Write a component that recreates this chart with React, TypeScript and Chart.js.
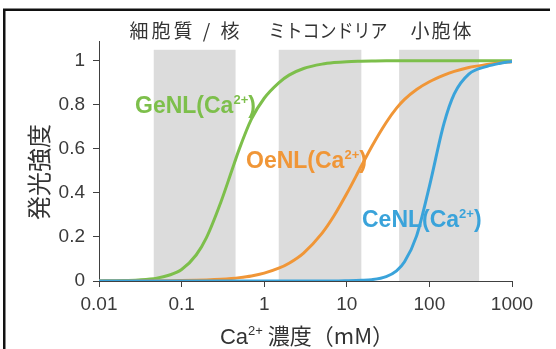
import React, { useEffect, useRef } from "react";
import { Chart, registerables } from "chart.js";

Chart.register(...registerables);

// ---- data ----
const concentrations = [
  0.01, 0.015, 0.02, 0.03, 0.05, 0.07, 0.1, 0.15, 0.2, 0.3, 0.4, 0.5, 0.7, 1, 1.5, 2, 3, 5, 7,
  10, 15, 20, 30, 40, 50, 70, 100, 150, 200, 300, 500, 700, 1000,
];
const genlValues = [
  0.0005, 0.0012, 0.002, 0.005, 0.013, 0.026, 0.052, 0.118, 0.197, 0.36, 0.495, 0.6, 0.735, 0.83,
  0.9, 0.935, 0.965, 0.985, 0.992, 0.996, 0.998, 0.999, 1, 1, 1, 1, 1, 1, 1, 1, 1, 1, 1,
];
const oenlValues = [
  0, 0, 0, 0.0005, 0.0009, 0.0013, 0.0021, 0.0034, 0.0049, 0.0081, 0.0116, 0.0153, 0.023, 0.0356,
  0.058, 0.081, 0.127, 0.216, 0.296, 0.397, 0.522, 0.61, 0.72, 0.785, 0.825, 0.87, 0.905, 0.935,
  0.952, 0.97, 0.983, 0.99, 0.996,
];
const cenlValues = [
  0, 0, 0, 0, 0, 0, 0, 0, 0, 0, 0, 0, 0, 0, 0, 0, 0, 0, 0, 0.001, 0.003, 0.006, 0.02, 0.046,
  0.087, 0.205, 0.43, 0.715, 0.85, 0.94, 0.975, 0.988, 0.997,
];
const seriesNames = ["GeNL", "OeNL", "CeNL"];

const xTickValues = [0.01, 0.1, 1, 10, 100, 1000];
const xTickLabels = ["0.01", "0.1", "1", "10", "100", "1000"];
const yTickValues = [0, 0.2, 0.4, 0.6, 0.8, 1];
const yTickLabels = ["0", "0.2", "0.4", "0.6", "0.8", "1"];

const regionNames = ["細胞質 / 核", "ミトコンドリア", "小胞体"];
const regionStarts = [0.046, 1.5, 43];
const regionEnds = [0.45, 15, 400];
const regionTop = 1.05;

const yTitle = "発光強度";
const xTitleMain = "Ca";
const xTitleSup = "2+";
const xTitleRest = " 濃度（mM）";

// ---- styles ----
const GREEN = "#7dbf4b";
const ORANGE = "#f09637";
const BLUE = "#3aa3da";
const LATIN = '"Liberation Sans", Arial, sans-serif';
const CJK = '"Noto Sans CJK JP", "Liberation Sans", sans-serif';
const TEXT = "#333333";

type Part = { t: string; size: number; bold?: boolean; dy?: number; family?: string };

function drawRich(ctx: CanvasRenderingContext2D, parts: Part[], x: number, y: number, align: "left" | "center", color: string) {
  const fontOf = (p: Part) => `${p.bold ? "bold " : ""}${p.size}px ${p.family || LATIN}`;
  let total = 0;
  for (const p of parts) {
    ctx.font = fontOf(p);
    total += ctx.measureText(p.t).width;
  }
  let cx = align === "center" ? x - total / 2 : x;
  ctx.fillStyle = color;
  ctx.textBaseline = "alphabetic";
  ctx.textAlign = "left";
  for (const p of parts) {
    ctx.font = fontOf(p);
    ctx.fillText(p.t, cx, y + (p.dy || 0));
    cx += ctx.measureText(p.t).width;
  }
}

const bandsPlugin = {
  id: "bands",
  beforeDraw(chart: any) {
    const { ctx, chartArea, scales } = chart;
    const xs = scales.x;
    const ys = scales.y;
    ctx.save();
    ctx.fillStyle = "#dcdcdc";
    const top = ys.getPixelForValue(regionTop);
    for (let i = 0; i < regionStarts.length; i++) {
      const a = xs.getPixelForValue(regionStarts[i]);
      const b = xs.getPixelForValue(regionEnds[i]);
      ctx.fillRect(a, top, b - a, chartArea.bottom - top);
    }
    ctx.restore();
  },
};

const textPlugin = {
  id: "texts",
  afterDraw(chart: any) {
    const { ctx } = chart;
    ctx.save();
    // frame
    ctx.fillStyle = "#888";
    ctx.fillRect(3, 8, 547, 1);
    ctx.fillStyle = "#111";
    ctx.fillRect(3, 9, 547, 2);
    ctx.fillRect(3, 9, 2.5, 340);

    // region names
    ctx.fillStyle = TEXT;
    ctx.textBaseline = "middle";
    ctx.textAlign = "center";
    ctx.font = `19px ${CJK}`;
    (ctx as any).letterSpacing = "3px";
    ctx.fillText(regionNames[0], 186, 31);
    (ctx as any).letterSpacing = "0px";
    ctx.fillText(regionNames[1], 328, 31, 119);
    (ctx as any).letterSpacing = "2px";
    ctx.fillText(regionNames[2], 442, 31);
    (ctx as any).letterSpacing = "0px";

    // series labels
    const labelPos = [
      [135, 113],
      [246, 168],
      [362, 227],
    ];
    const cols = [GREEN, ORANGE, BLUE];
    for (let i = 0; i < seriesNames.length; i++) {
      drawRich(
        ctx,
        [
          { t: seriesNames[i] + "(Ca", size: 23, bold: true },
          { t: "2+", size: 13, bold: true, dy: -9 },
          { t: ")", size: 23, bold: true },
        ],
        labelPos[i][0],
        labelPos[i][1],
        "left",
        cols[i]
      );
    }

    // x title
    drawRich(
      ctx,
      [
        { t: xTitleMain, size: 22 },
        { t: xTitleSup, size: 13, dy: -9 },
        { t: xTitleRest, size: 22, family: CJK },
      ],
      307,
      344,
      "center",
      TEXT
    );

    // y title
    ctx.translate(39, 172);
    ctx.rotate(-Math.PI / 2);
    ctx.fillStyle = TEXT;
    ctx.font = `24px ${CJK}`;
    ctx.textAlign = "center";
    ctx.textBaseline = "middle";
    ctx.fillText(yTitle, 0, 0);
    ctx.restore();
  },
};

export default function App() {
  const ref = useRef<HTMLCanvasElement | null>(null);
  useEffect(() => {
    document.body.style.margin = "0";
    const canvas = ref.current;
    if (!canvas) return;
    const mk = (vals: number[]) => concentrations.map((c, i) => ({ x: c, y: vals[i] }));
    const chart = new Chart(canvas, {
      type: "line",
      data: {
        datasets: [
          { label: seriesNames[2], data: mk(cenlValues), borderColor: BLUE },
          { label: seriesNames[1], data: mk(oenlValues), borderColor: ORANGE },
          { label: seriesNames[0], data: mk(genlValues), borderColor: GREEN },
        ].map((d) => ({
          ...d,
          borderWidth: 3,
          pointRadius: 0,
          fill: false,
          cubicInterpolationMode: "monotone" as const,
        })),
      },
      options: {
        responsive: false,
        animation: false,
        devicePixelRatio: 1,
        layout: { padding: { top: 41, right: 44, left: 0, bottom: 0 } },
        plugins: { legend: { display: false }, tooltip: { enabled: false } },
        scales: {
          x: {
            type: "logarithmic",
            min: 0.01,
            max: 1000,
            afterBuildTicks: (s: any) => {
              s.ticks = xTickValues.map((v) => ({ value: v }));
            },
            afterFit: (s: any) => {
              s.height = 68;
            },
            ticks: {
              autoSkip: false,
              maxRotation: 0,
              padding: 6,
              color: "#3a3a3a",
              font: { family: LATIN, size: 19 },
              callback: (_v: any, i: number) => xTickLabels[i],
            },
            grid: { display: true, drawOnChartArea: false, drawTicks: true, tickLength: 6, color: "#404040" },
            border: { display: true, color: "#404040", width: 1 },
          },
          y: {
            type: "linear",
            min: 0,
            max: 1.09,
            afterBuildTicks: (s: any) => {
              s.ticks = yTickValues.map((v) => ({ value: v }));
            },
            afterFit: (s: any) => {
              s.width = 99;
            },
            ticks: {
              autoSkip: false,
              padding: 8,
              color: "#3a3a3a",
              font: { family: LATIN, size: 19 },
              callback: (_v: any, i: number) => yTickLabels[i],
            },
            grid: { display: true, drawOnChartArea: false, drawTicks: true, tickLength: 6, color: "#404040" },
            border: { display: true, color: "#404040", width: 1 },
          },
        },
      },
      plugins: [bandsPlugin, textPlugin],
    });
    return () => chart.destroy();
  }, []);
  return <canvas ref={ref} width={556} height={349} style={{ display: "block" }} />;
}
